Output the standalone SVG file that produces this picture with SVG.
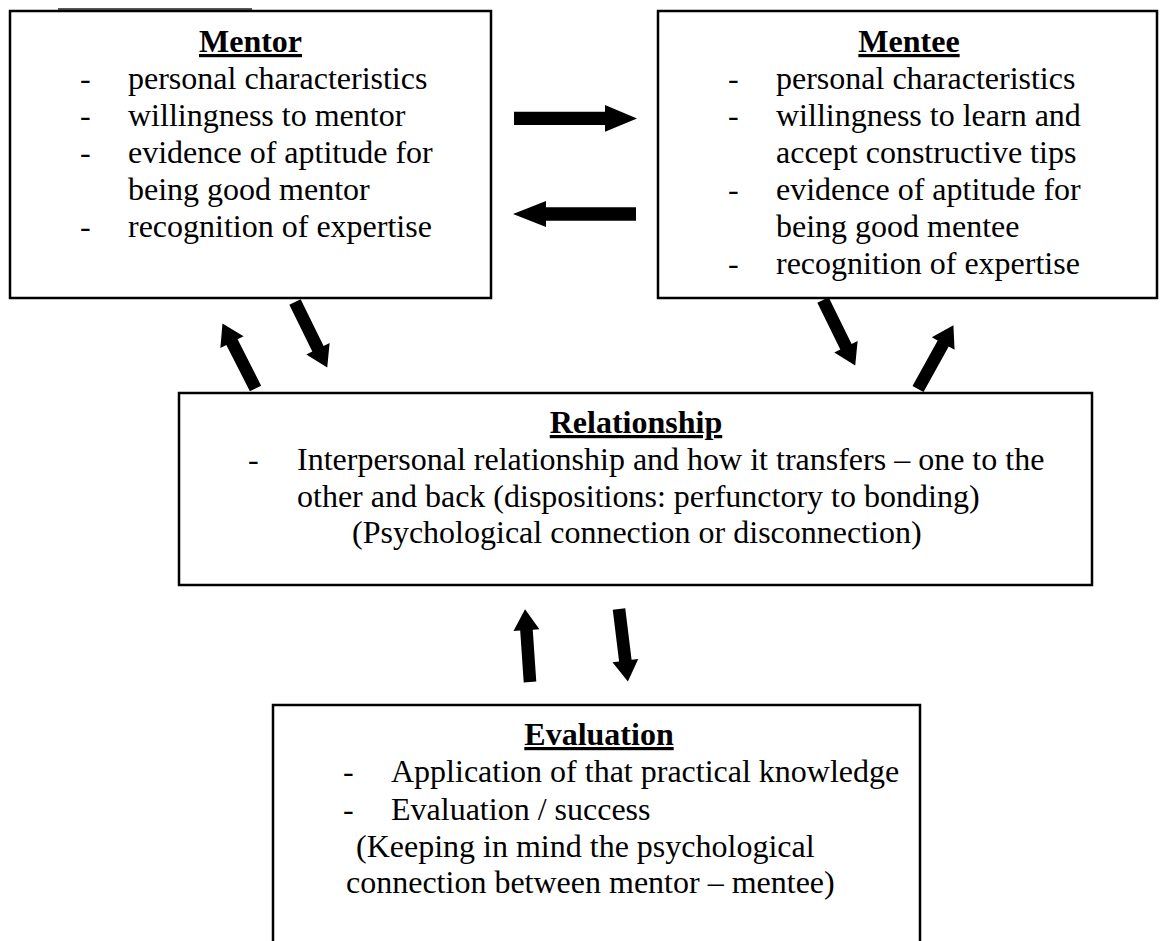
<svg xmlns="http://www.w3.org/2000/svg" width="1160" height="941" viewBox="0 0 1160 941">
<style>
.box{fill:#fff;stroke:#000;stroke-width:2.5}
text{font-family:'Liberation Serif','Times New Roman',Tinos,'DejaVu Serif',serif;font-size:32px;fill:#000}
.h{font-weight:bold;text-decoration:underline;text-anchor:middle}
.arr{fill:#000;stroke:none}
</style>
<defs>
<polygon id="ad" points="0,-6.3 52,-6.3 52,-13 73,0 52,13 52,6.3 0,6.3"/>
</defs>
<rect width="1160" height="941" fill="#fff"/>
<line x1="58" y1="9" x2="252" y2="9" stroke="#222" stroke-width="1.5"/>
<g id="mentor" font-family="Liberation Serif, serif">
<rect class="box" x="10" y="11" width="481" height="287"/>
<text class="h" x="250.5" y="52">Mentor</text>
<text x="80" y="89">-</text><text x="128" y="89">personal characteristics</text>
<text x="80" y="126">-</text><text x="128" y="126">willingness to mentor</text>
<text x="80" y="163">-</text><text x="128" y="163">evidence of aptitude for</text>
<text x="128" y="200">being good mentor</text>
<text x="80" y="237">-</text><text x="128" y="237">recognition of expertise</text>
</g>
<g id="mentee" font-family="Liberation Serif, serif">
<rect class="box" x="658" y="11" width="499" height="287"/>
<text class="h" x="909" y="52">Mentee</text>
<text x="728" y="89">-</text><text x="776" y="89">personal characteristics</text>
<text x="728" y="126">-</text><text x="776" y="126">willingness to learn and</text>
<text x="776" y="163">accept constructive tips</text>
<text x="728" y="200">-</text><text x="776" y="200">evidence of aptitude for</text>
<text x="776" y="237">being good mentee</text>
<text x="728" y="274">-</text><text x="776" y="274">recognition of expertise</text>
</g>
<g id="relationship" font-family="Liberation Serif, serif">
<rect class="box" x="179" y="393" width="913" height="192"/>
<text class="h" x="636" y="433">Relationship</text>
<text x="248" y="470">-</text><text x="297" y="470">Interpersonal relationship and how it transfers – one to the</text>
<text x="297" y="507">other and back (dispositions: perfunctory to bonding)</text>
<text x="352" y="543">(Psychological connection or disconnection)</text>
</g>
<g id="evaluation" font-family="Liberation Serif, serif">
<path class="box" d="M273,950 V705 H920 V950"/>
<text class="h" x="599" y="745">Evaluation</text>
<text x="343" y="782">-</text><text x="391" y="782">Application of that practical knowledge</text>
<text x="343" y="820">-</text><text x="391" y="820">Evaluation / success</text>
<text x="356" y="857">(Keeping in mind the psychological</text>
<text x="346" y="893">connection between mentor – mentee)</text>
</g>
<g id="connectors">
<polygon class="arr" points="514,111.8 605,111.8 605,105 637,118.4 605,131.8 605,125 514,125"/>
<polygon class="arr" points="636,207.3 546,207.3 546,201 513,214 546,227 546,220.7 636,220.7"/>
<use href="#ad" class="arr" transform="translate(295,302) rotate(63.8)"/>
<use href="#ad" class="arr" transform="translate(255.5,388.5) rotate(-116.9)"/>
<use href="#ad" class="arr" transform="translate(823,300) rotate(63.8)"/>
<use href="#ad" class="arr" transform="translate(918,389) rotate(-61)"/>
<use href="#ad" class="arr" transform="translate(530,682) rotate(-93.9)"/>
<use href="#ad" class="arr" transform="translate(619,609) rotate(83)"/>
</g>
</svg>
